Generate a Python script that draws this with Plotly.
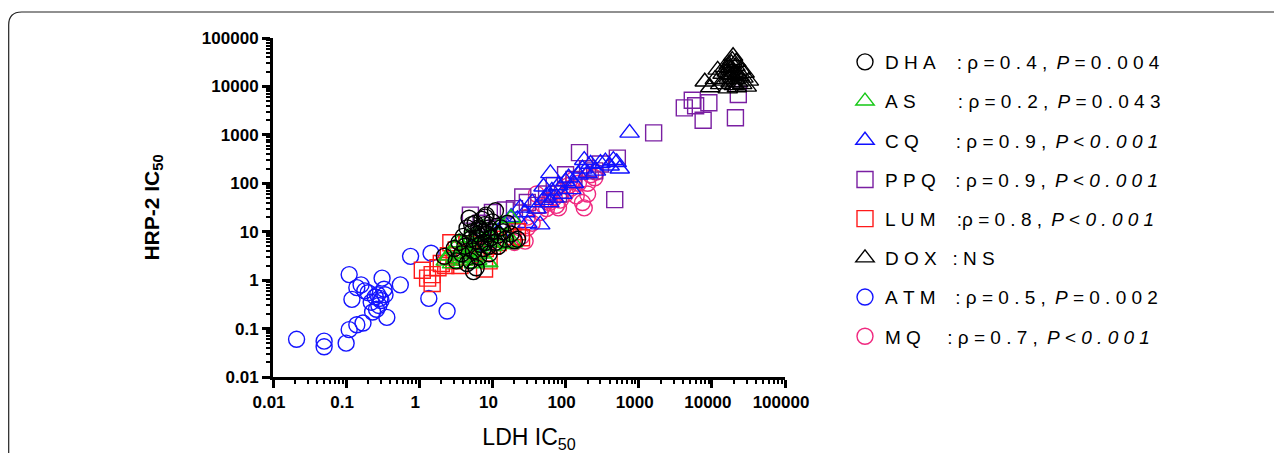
import plotly.graph_objects as go

# ---------------- data (LDH IC50, HRP-2 IC50) ----------------
dha_x = [2.2, 3.0, 3.5, 3.8, 4.0, 4.2, 4.5, 4.8, 5.0, 5.0, 5.3, 5.5, 5.5, 5.8, 6.0, 6.2, 6.5, 6.5, 6.8, 7.0,
         7.2, 7.5, 7.5, 7.8, 8.0, 8.2, 8.5, 8.8, 9.0, 9.5, 10, 10, 11, 11, 12, 13, 14, 15, 16, 18,
         20, 22, 4.5, 6.0, 9.0, 3.2, 5.2, 7.0, 12, 8.0]
dha_y = [3.1, 4.5, 6.0, 3.5, 8.0, 5.0, 12, 19, 2.5, 7.0, 10, 1.5, 4.0, 15, 6.5, 9.0, 3.0, 12, 5.5, 8.0,
         18, 4.5, 10, 14, 6.0, 22, 9.0, 5.0, 12, 7.5, 10, 16, 6.0, 27, 8.5, 12, 10, 7.0, 15, 9.0,
         6.5, 7.0, 2.2, 1.8, 3.5, 2.5, 14, 11, 5.0, 20]

as_x = [2.3, 2.5, 2.8, 3.0, 3.3, 3.5, 3.8, 4.0, 4.3, 4.6, 5.0, 5.3, 5.6, 6.0, 6.5, 7.0, 7.5, 8.0, 8.5, 9.0,
        10, 11, 12, 13, 15, 17, 18, 19, 6.2, 8.8]
as_y = [2.5, 3.2, 2.2, 4.5, 2.8, 6.0, 3.5, 2.5, 5.0, 7.5, 3.0, 4.0, 2.2, 9.0, 5.5, 3.5, 12, 6.5, 2.4, 8.0,
        5.0, 10, 6.0, 14, 8.0, 5.5, 19, 6.0, 2.6, 2.3]

cq_x = [4, 6, 8, 10, 12, 15, 18, 22, 24, 28, 30, 35, 40, 45, 50, 55, 60, 65, 70, 80,
        90, 100, 110, 130, 150, 170, 200, 220, 260, 300, 350, 400, 450, 500, 550, 750, 62, 50, 120, 180]
cq_y = [3.5, 6, 5, 8, 10, 14, 20, 18, 31, 25, 15, 40, 30, 14, 45, 55, 40, 70, 50, 90,
        60, 110, 130, 100, 150, 200, 160, 250, 180, 260, 280, 230, 300, 270, 200, 1100, 160, 85, 75, 300]

ppq_x = [5, 7, 10, 15, 20, 26, 30, 40, 55, 70, 100, 155, 130, 200, 300, 510, 470, 1600, 4200, 5400,
         6000, 9100, 7600, 23000, 21000, 80, 250, 12]
ppq_y = [22, 15, 25, 28, 30, 52, 40, 35, 60, 90, 150, 430, 120, 200, 250, 330, 46, 1100, 3600, 5200,
         4000, 4600, 2000, 6800, 2250, 60, 180, 12]

lum_x = [1.1, 1.5, 1.5, 1.8, 2.0, 2.3, 2.7, 3.0, 3.6, 4.2, 5, 6, 7.8, 9, 10, 12, 15, 19, 22, 25,
         3.2, 4.5, 2.5, 8, 1.3]
lum_y = [1.6, 1.3, 0.85, 1.8, 2.2, 2.0, 5.9, 2.5, 2.0, 3, 3.5, 4, 1.7, 2.5, 5, 6, 7, 8, 10, 7.5,
         4.2, 5.5, 3.2, 4.5, 1.1]

dox_x = [8000, 9500, 11000, 12000, 13000, 14000, 15000, 15000, 16000, 17000, 17000, 18000, 18000, 19000, 19000,
         20000, 20000, 21000, 21000, 22000, 22000, 23000, 24000, 25000, 26000, 27000, 28000, 30000, 32000, 16500,
         19500, 18500, 21500, 17500]
dox_y = [12500, 9500, 14000, 22000, 11000, 18000, 25000, 13000, 20000, 15000, 28000, 12000, 22000, 17000, 35000,
         10500, 20000, 14000, 26000, 9500, 18000, 12000, 16000, 22000, 11000, 15000, 19000, 9800, 13000, 9000,
         42000, 30000, 32000, 24000]

atm_x = [0.021, 0.05, 0.05, 0.1, 0.11, 0.14, 0.17, 0.11, 0.14, 0.16, 0.12, 0.2, 0.22, 0.25, 0.28, 0.3, 0.23,
         0.26, 0.27, 0.31, 0.33, 0.34, 0.36, 0.55, 0.76, 1.35, 1.45, 2.4, 0.18, 0.29]
atm_y = [0.06, 0.055, 0.042, 0.05, 0.095, 0.12, 0.13, 1.3, 0.7, 0.8, 0.4, 0.55, 0.35, 0.45, 0.3, 0.38, 0.22,
         0.25, 0.5, 1.1, 0.65, 0.5, 0.17, 0.8, 3.1, 0.42, 3.6, 0.23, 0.6, 0.42]

mq_x = [20, 25, 28, 30, 35, 40, 45, 50, 55, 60, 70, 75, 80, 90, 100, 110, 120, 140, 150, 170,
        180, 200, 200, 220, 250, 260, 30, 60, 130, 85]
mq_y = [6, 8, 6.4, 12, 15, 60, 25, 35, 30, 45, 50, 35, 31, 70, 60, 90, 80, 55, 100, 40,
        31, 100, 60, 150, 130, 170, 20, 40, 120, 45]

x_ticks = [0.01, 0.1, 1, 10, 100, 1000, 10000, 100000]
x_tick_labels = ["0.01", "0.1", "1", "10", "100", "1000", "10000", "100000"]

NB = "\u00a0"
TH = "\u2009"


def sp(s):
    return NB.join(list(s))


P_EQ = "<i>P</i>" + NB
P_LT = "<i>P</i>" + NB + "<" + NB + "<i>" + sp("0.001") + "</i>"
legend_names = {
    "DHA": sp("DHA") + NB * 4 + ":" + NB + sp("ρ=0.4,") + NB + TH + P_EQ + sp("=0.004"),
    "AS": sp("AS") + NB * 8 + ":" + NB + sp("ρ=0.2,") + NB + TH + P_EQ + sp("=0.043"),
    "CQ": sp("CQ") + NB * 7 + ":" + NB + sp("ρ=0.9,") + NB + TH + P_LT,
    "PPQ": sp("PPQ") + NB * 3 + TH + ":" + NB + sp("ρ=0.9,") + NB + TH + P_LT,
    "LUM": sp("LUM") + NB * 4 + ":" + sp("ρ=0.8,") + NB + TH + P_LT,
    "DOX": sp("DOX") + NB * 3 + ":" + NB + sp("NS"),
    "ATM": sp("ATM") + NB * 3 + TH + ":" + NB + sp("ρ=0.5,") + NB + TH + P_EQ + sp("=0.002"),
    "MQ": sp("MQ") + NB * 5 + ":" + NB + sp("ρ=0.7,") + NB + TH + P_LT,
}

# draw order, (name, x, y, symbol, color, legend rank)
series = [
    ("ATM", atm_x, atm_y, "circle-open", "#1414ff", 7),
    ("MQ", mq_x, mq_y, "circle-open", "#f0287f", 8),
    ("PPQ", ppq_x, ppq_y, "square-open", "#7a1fa2", 4),
    ("CQ", cq_x, cq_y, "triangle-up-open", "#1010ff", 3),
    ("LUM", lum_x, lum_y, "square-open", "#ff1a1a", 5),
    ("AS", as_x, as_y, "triangle-up-open", "#14c814", 2),
    ("DHA", dha_x, dha_y, "circle-open", "#000000", 1),
    ("DOX", dox_x, dox_y, "triangle-up-open", "#000000", 6),
]

fig = go.Figure()
for name, xs, ys, sym, col, rank in series:
    size = 17 if "triangle" in sym else 16
    fig.add_trace(go.Scatter(
        x=xs, y=ys, mode="markers", name=legend_names[name],
        marker=dict(symbol=sym, size=size, color=col, line=dict(width=1.4, color=col)),
        legendrank=rank, legendgroup=name,
    ))

# page layout (the html body adds an 8px margin, so figure coords = page - 8)
OFF = 8
PW, PH = 1282, 461
W, H = PW - 2 * OFF, PH - 2 * OFF
L, R, T, B = 273 - OFF, 785 - OFF, 38 - OFF, 377 - OFF


def px(Xp):
    return (Xp - OFF - L) / (R - L)


def py(Yp):
    return (B - (Yp - OFF)) / (B - T)


r = 13
x0, y0 = 8.7, 12
path = (f"M {px(x0)},{py(PH + 30)} L {px(x0)},{py(y0 + r)} "
        f"Q {px(x0)},{py(y0)} {px(x0 + r)},{py(y0)} L {px(PW + 30)},{py(y0)}")

fig.add_shape(type="path", path=path, xref="paper", yref="paper",
              line=dict(color="#222222", width=1.2), layer="below")

font_family = "Liberation Sans, Arial, sans-serif"
axis_common = dict(
    type="log", showgrid=False, zeroline=False, showline=True, linecolor="black", linewidth=3,
    ticks="outside", ticklen=8, tickwidth=3, tickcolor="black",
    tickfont=dict(family=font_family, size=17, color="black", weight="bold"),
    tickvals=x_ticks, ticktext=x_tick_labels,
    minor=dict(ticks="outside", ticklen=4, tickwidth=2, tickcolor="black", dtick="D1"),
)

fig.update_xaxes(range=[-2, 5], **axis_common, ticklabelshift=-4,
                 title=dict(text="LDH IC<sub>50</sub>", font=dict(family=font_family, size=23, color="black"),
                            standoff=26))
fig.update_yaxes(range=[-2, 5], **axis_common,
                 title=dict(text="<b>HRP-2 IC<sub>50</sub></b>", font=dict(family=font_family, size=21, color="black"),
                            standoff=37))

fig.update_layout(
    width=W, height=H,
    margin=dict(l=L, r=W - R, t=T, b=H - B, pad=0, autoexpand=False),
    plot_bgcolor="white", paper_bgcolor="white",
    showlegend=True,
    legend=dict(x=px(845), xanchor="left", y=py(43), yanchor="top",
                font=dict(family=font_family, size=19, color="black"),
                tracegroupgap=11.5, itemsizing="trace", bgcolor="rgba(0,0,0,0)",
                borderwidth=0),
)

fig.write_html("out.html")
